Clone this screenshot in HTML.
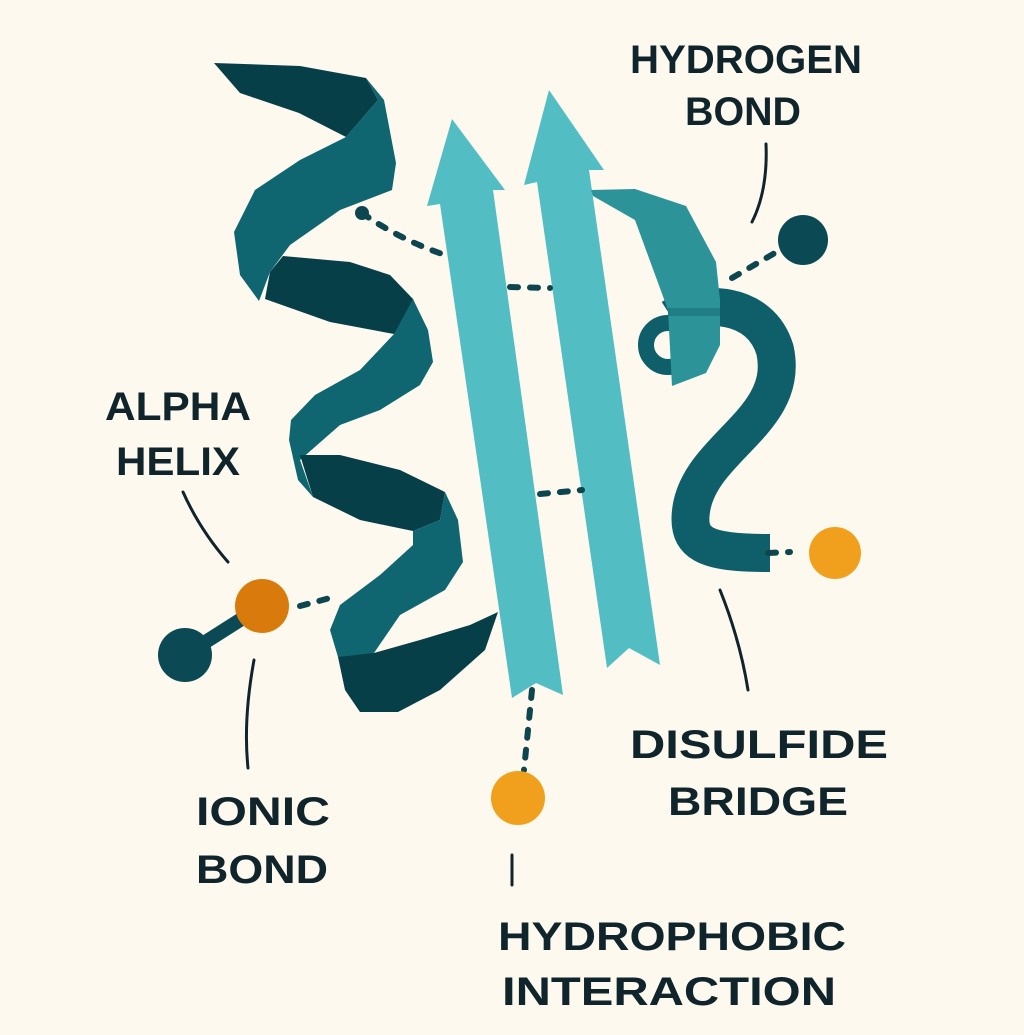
<!DOCTYPE html>
<html><head><meta charset="utf-8"><style>
html,body{margin:0;padding:0;background:#fdf9ef;}
svg{display:block}
text{font-family:"Liberation Sans",sans-serif;font-weight:bold;fill:#10242c;font-size:40px}
</style></head><body>
<svg width="1024" height="1035" viewBox="0 0 1024 1035" xmlns="http://www.w3.org/2000/svg">
<rect width="1024" height="1035" fill="#fdf9ef"/>

<!-- left helix -->
<g>
<polygon fill="#073f49" points="214,63 300,66 366,78 378,100 346,137 299,113 240,93"/>
<polygon fill="#0f6570" points="366,78 384,100 396,163 392,190 340,210 290,245 270,272 259,301 240,275 234,232 255,190 300,160 346,137 378,100"/>
<polygon fill="#073f49" points="283,256 350,262 390,275 413,299 420,320 394,334 330,322 265,299 270,272"/>
<polygon fill="#0f6570" points="413,299 428,330 433,362 420,385 380,410 340,425 300,460 313,497 298,480 289,440 291,420 315,395 360,370 394,334"/>
<polygon fill="#073f49" points="300,455 340,455 400,470 445,492 440,520 413,531 360,520 313,497"/>
<polygon fill="#0f6570" points="445,492 458,520 463,562 445,590 400,615 374,653 355,680 338,657 330,630 340,605 380,575 413,545 413,531 440,520"/>
<polygon fill="#073f49" points="374,653 420,640 470,625 498,612 485,650 440,690 398,712 360,712 345,690 338,657"/>
</g>

<!-- arrows -->
<polygon fill="#52bec3" points="452,119 505,190 493,190 563,695 536,683 512,698 440,204 427,206"/>
<polygon fill="#52bec3" points="549,90 604,170 589,170 660,665 629,648 607,668 537,182 524,185"/>

<!-- right helix -->
<path d="M672 318 C700 300 760 300 775 350 C790 420 705 445 692 505 C684 545 705 553 770 553" fill="none" stroke="#0e5f6a" stroke-width="38"/>
<circle cx="668" cy="345" r="22" fill="none" stroke="#0e5f6a" stroke-width="16"/>
<polygon fill="#2c9499" points="591,190 635,189 686,206 716,262 720,300 720,345 706,373 672,386 668,310 635,220 593,196"/>
<rect x="668" y="308" width="52" height="8" fill="#1f7d85"/>

<!-- dashed bonds -->
<g stroke="#0e4650" stroke-width="6" stroke-linecap="round" fill="none" stroke-dasharray="8 12">
<path d="M362 213 Q400 240 448 256"/>
<path d="M510 287 L550 288"/>
<path d="M540 494 L582 490"/>
<path d="M300 606 L330 598"/>
<path d="M732 278 L780 250"/>
<path d="M768 553 L790 552"/>
<path d="M532 690 L524 770"/>
</g>
<circle cx="362" cy="213" r="7" fill="#0e4650"/>

<!-- atoms -->
<line x1="185" y1="655" x2="262" y2="606" stroke="#0b4a55" stroke-width="14"/>
<circle cx="185" cy="655" r="27" fill="#0b4a55"/>
<circle cx="262" cy="606" r="27" fill="#d97a0c"/>
<circle cx="803" cy="240" r="25" fill="#0b4a55"/>
<circle cx="835" cy="553" r="26" fill="#f0a01c"/>
<circle cx="518" cy="798" r="27" fill="#f0a01c"/>

<!-- leader lines -->
<g stroke="#10242c" stroke-width="3" fill="none" stroke-linecap="round">
<path d="M766 144 Q768 190 752 222"/>
<path d="M183 492 Q200 530 228 562"/>
<path d="M254 660 Q243 720 248 768"/>
<path d="M720 590 Q740 640 748 690"/>
<path d="M512 855 L512 885"/>
</g>

<!-- labels -->
<text x="630" y="73" textLength="232" lengthAdjust="spacingAndGlyphs">HYDROGEN</text>
<text x="685" y="125" textLength="116" lengthAdjust="spacingAndGlyphs">BOND</text>
<text x="105" y="420" textLength="146" lengthAdjust="spacingAndGlyphs">ALPHA</text>
<text x="116" y="475" textLength="124" lengthAdjust="spacingAndGlyphs">HELIX</text>
<text x="196" y="825" textLength="134" lengthAdjust="spacingAndGlyphs">IONIC</text>
<text x="196" y="883" textLength="132" lengthAdjust="spacingAndGlyphs">BOND</text>
<text x="630" y="758" textLength="258" lengthAdjust="spacingAndGlyphs">DISULFIDE</text>
<text x="668" y="815" textLength="180" lengthAdjust="spacingAndGlyphs">BRIDGE</text>
<text x="498" y="950" textLength="348" lengthAdjust="spacingAndGlyphs">HYDROPHOBIC</text>
<text x="502" y="1005" textLength="334" lengthAdjust="spacingAndGlyphs">INTERACTION</text>
</svg>
</body></html>
